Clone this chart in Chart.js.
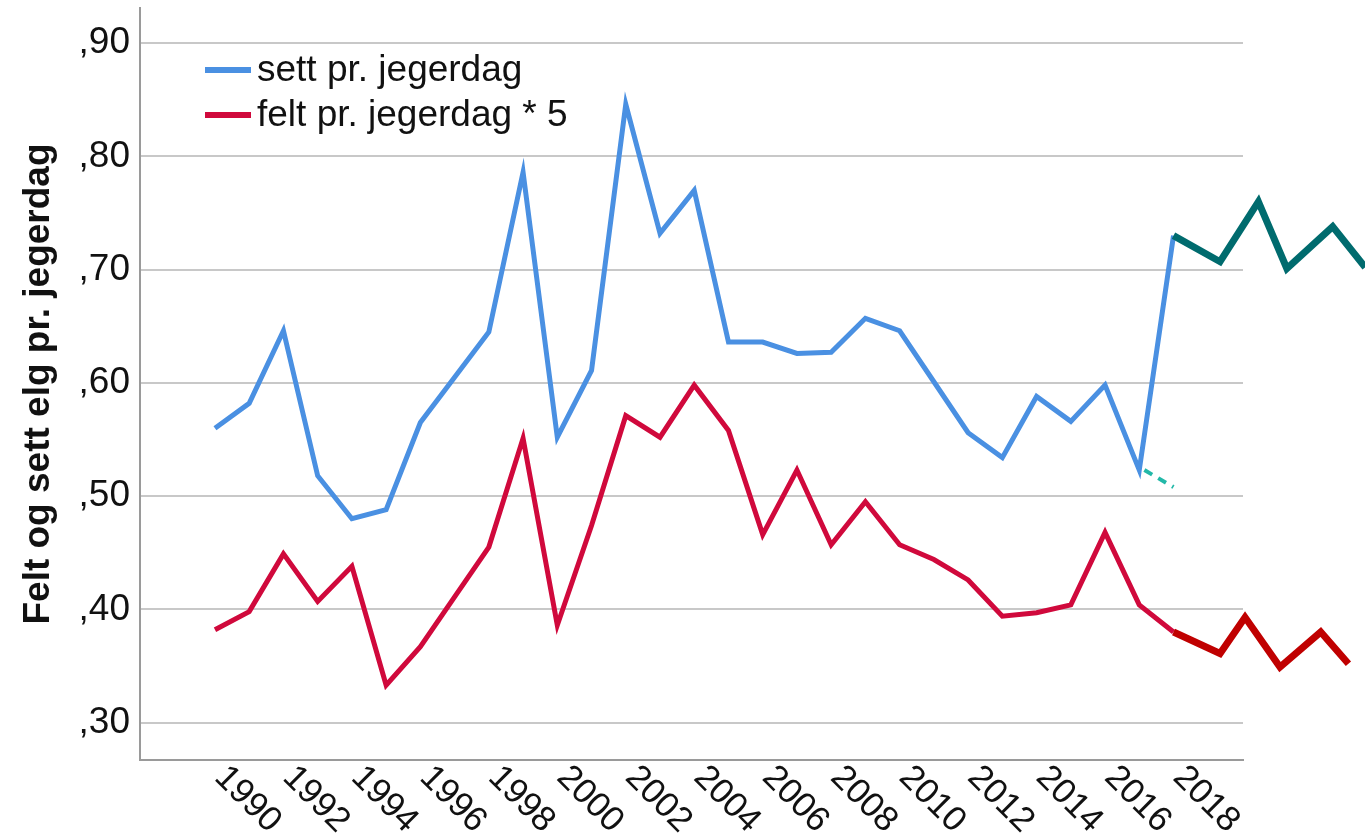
<!DOCTYPE html>
<html lang="no">
<head>
<meta charset="utf-8">
<title>Felt og sett elg pr. jegerdag</title>
<script src="https://cdn.jsdelivr.net/npm/chart.js@4.4.1/dist/chart.umd.min.js"></script>
<style>
    html, body { margin: 0; padding: 0; background: #fff; }
    #canvas-container { width: 1365px; height: 838px; }
</style>
</head>
<body>
<div id="canvas-container"><canvas id="myLineChart" width="1365" height="838"></canvas></div>
<script>
// Years and values
const years = [1990, 1991, 1992, 1993, 1994, 1995, 1996, 1997, 1998, 1999,
    2000, 2001, 2002, 2003, 2004, 2005, 2006, 2007, 2008, 2009,
    2010, 2011, 2012, 2013, 2014, 2015, 2016, 2017, 2018];

const settValues = [0.560, 0.582, 0.646, 0.518, 0.480, 0.488, 0.565, 0.605, 0.645, 0.786,
    0.552, 0.611, 0.846, 0.732, 0.770, 0.636, 0.636, 0.626, 0.627, 0.657,
    0.646, 0.601, 0.556, 0.534, 0.588, 0.566, 0.598, 0.523, 0.730];

const feltValues = [0.382, 0.398, 0.449, 0.407, 0.438, 0.333, 0.367, 0.411, 0.455, 0.551,
    0.386, 0.474, 0.571, 0.552, 0.598, 0.558, 0.466, 0.523, 0.457, 0.495,
    0.457, 0.444, 0.426, 0.394, 0.397, 0.404, 0.468, 0.404, 0.380];

// Hand-drawn extensions to the right of the plot (x positions are approximate)
const settExtYears = [2018, 2019.36, 2020.48, 2021.31, 2022.65, 2023.6];
const settExtValues = [0.730, 0.707, 0.760, 0.701, 0.738, 0.702];

const feltExtYears = [2018, 2019.36, 2020.09, 2021.11, 2022.30, 2023.11];
const feltExtValues = [0.380, 0.361, 0.393, 0.349, 0.380, 0.352];

const dashYears = [2017.15, 2018];
const dashValues = [0.523, 0.508];

// Axis ranges and tick labels
const xRange = [1987.81, 2020.03];
const yRange = [0.267, 0.931];
const yTicks = [0.3, 0.4, 0.5, 0.6, 0.7, 0.8, 0.9];
const xTickYears = [1990, 1992, 1994, 1996, 1998, 2000, 2002, 2004,
    2006, 2008, 2010, 2012, 2014, 2016, 2018];

const fontFamily = 'Arial, "Liberation Sans", sans-serif';
const textColor = '#111';

function toPoints(xs, ys) {
    return xs.map((x, i) => ({ x: x, y: ys[i] }));
}

// SPSS style: ",90" instead of "0.90"
function formatTick(value) {
    return value.toFixed(2).replace(/^0\./, ',');
}

// Year labels rotated clockwise, starting at the tick
const rotatedXLabels = {
    id: 'rotatedXLabels',
    afterDraw(chart) {
        const ctx = chart.ctx;
        const xScale = chart.scales.x;
        const top = chart.chartArea.bottom;
        ctx.save();
        ctx.font = '35px ' + fontFamily;
        ctx.fillStyle = textColor;
        ctx.textAlign = 'left';
        ctx.textBaseline = 'middle';
        for (const year of xTickYears) {
            const px = xScale.getPixelForValue(year);
            ctx.save();
            ctx.translate(px + 5, top + 12);
            ctx.rotate(Math.PI / 4);
            ctx.fillText(String(year), 0, 0);
            ctx.restore();
        }
        ctx.restore();
    }
};

// Legend drawn inside the plot area, top left
const insideLegend = {
    id: 'insideLegend',
    afterDraw(chart) {
        const { ctx, chartArea } = chart;
        const items = chart.data.datasets.filter(d => d.label);
        ctx.save();
        ctx.font = '37px ' + fontFamily;
        ctx.textBaseline = 'middle';
        ctx.textAlign = 'left';
        items.forEach((ds, i) => {
            const x = chartArea.left + 65;
            const y = chartArea.top + 62 + i * 45;
            ctx.strokeStyle = ds.borderColor;
            ctx.lineWidth = 6;
            ctx.beginPath();
            ctx.moveTo(x, y);
            ctx.lineTo(x + 46, y);
            ctx.stroke();
            ctx.fillStyle = textColor;
            ctx.fillText(ds.label, x + 52, y + 1);
        });
        ctx.restore();
    }
};

const ctx = document.getElementById('myLineChart').getContext('2d');
const myLineChart = new Chart(ctx, {
    type: 'line',
    data: {
        datasets: [
            {
                data: toPoints(settExtYears, settExtValues),
                borderColor: '#006B6E',
                borderWidth: 7,
                pointRadius: 0,
                clip: false,
                order: 0
            },
            {
                data: toPoints(feltExtYears, feltExtValues),
                borderColor: '#C00000',
                borderWidth: 7,
                pointRadius: 0,
                clip: false,
                order: 0
            },
            {
                data: toPoints(dashYears, dashValues),
                borderColor: '#22B8A8',
                borderWidth: 4,
                borderDash: [9, 7],
                pointRadius: 0,
                clip: false,
                order: 0
            },
            {
                label: 'sett pr. jegerdag',
                data: toPoints(years, settValues),
                borderColor: '#4A90E2',
                borderWidth: 5,
                pointRadius: 0,
                order: 1
            },
            {
                label: 'felt pr. jegerdag * 5',
                data: toPoints(years, feltValues),
                borderColor: '#D0093C',
                borderWidth: 5,
                pointRadius: 0,
                order: 1
            }
        ]
    },
    options: {
        responsive: false,
        animation: false,
        devicePixelRatio: 1,
        layout: { padding: { top: 8, right: 122, left: 0, bottom: 0 } },
        elements: { line: { tension: 0 } },
        scales: {
            x: {
                type: 'linear',
                bounds: 'data',
                // range set here (not as min/max) so points past the edge are still drawn
                afterDataLimits(scale) {
                    scale.min = xRange[0];
                    scale.max = xRange[1];
                },
                grid: { display: false, drawTicks: false },
                border: { display: true, color: '#9a9a9a', width: 2 },
                ticks: { display: false },
                afterFit(scale) {
                    scale.height = 78;
                    scale.paddingLeft = 0;
                    scale.paddingRight = 0;
                }
            },
            y: {
                min: yRange[0],
                max: yRange[1],
                afterBuildTicks(scale) {
                    scale.ticks = yTicks.map(v => ({ value: v }));
                },
                grid: { color: '#c8c8c8', lineWidth: 2, drawTicks: false },
                border: { display: true, color: '#9a9a9a', width: 2 },
                ticks: {
                    padding: 10,
                    color: textColor,
                    font: { size: 37, family: fontFamily },
                    callback: v => formatTick(v)
                },
                title: {
                    display: true,
                    text: 'Felt og sett elg pr. jegerdag',
                    color: textColor,
                    font: { size: 37, weight: 'bold', family: fontFamily },
                    padding: { top: 17, bottom: 0 }
                },
                afterFit(scale) {
                    scale.width = 140;
                    scale.paddingTop = 0;
                    scale.paddingBottom = 0;
                }
            }
        },
        plugins: {
            legend: { display: false },
            tooltip: { enabled: false }
        }
    },
    plugins: [rotatedXLabels, insideLegend]
});
</script>
</body>
</html>
